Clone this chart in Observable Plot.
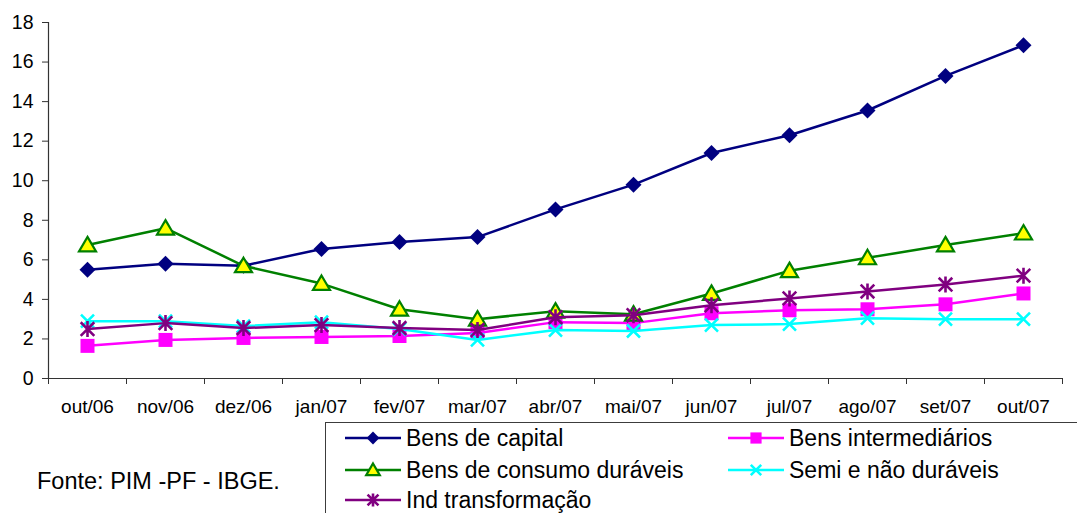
<!DOCTYPE html>
<html>
<head>
<meta charset="utf-8">
<script src="https://cdn.jsdelivr.net/npm/d3@7"></script>
<script src="https://cdn.jsdelivr.net/npm/@observablehq/plot@0.6"></script>
<style>
  html, body { margin: 0; padding: 0; background: #fff; overflow: hidden; }
  #wrap { position: relative; width: 1077px; height: 513px; font-family: "Liberation Sans", Arial, sans-serif; color: #000; }
  #legend { position: absolute; left: 325px; top: 422px; width: 800px; height: 140px; border: 1px solid #3c3c3c; box-sizing: border-box; }
  .item { position: absolute; display: flex; align-items: center; font-size: 23px; white-space: nowrap; }
  .item svg { display: block; margin-right: 5px; }
  #source { position: absolute; left: 37px; top: 468px; font-size: 23.5px; white-space: nowrap; }
</style>
</head>
<body>
<div id="wrap"><div id="chart"></div><div id="legend"></div><div id="source">Fonte: PIM -PF - IBGE.</div></div>
<script>
const months = ["out/06","nov/06","dez/06","jan/07","fev/07","mar/07","abr/07","mai/07","jun/07","jul/07","ago/07","set/07","out/07"];
const yTicks = [0, 2, 4, 6, 8, 10, 12, 14, 16, 18];

const bensCapital      = [5.5, 5.8, 5.7, 6.55, 6.9, 7.15, 8.55, 9.8, 11.4, 12.3, 13.55, 15.3, 16.85];
const bensIntermed     = [1.65, 1.95, 2.05, 2.1, 2.15, 2.3, 2.85, 2.8, 3.3, 3.45, 3.5, 3.75, 4.3];
const bensConsumoDur   = [6.75, 7.6, 5.7, 4.8, 3.5, 3.0, 3.4, 3.25, 4.3, 5.45, 6.1, 6.75, 7.35];
const semiNaoDur       = [2.9, 2.9, 2.65, 2.85, 2.5, 1.95, 2.45, 2.4, 2.7, 2.75, 3.05, 3.0, 3.0];
const indTransf        = [2.5, 2.8, 2.55, 2.7, 2.55, 2.45, 3.1, 3.2, 3.7, 4.05, 4.4, 4.75, 5.2];

const seriesNames = ["Bens de capital", "Bens intermediários", "Bens de consumo duráveis", "Semi e não duráveis", "Ind transformação"];

// custom Excel-like marker symbols
const rOf = size => Math.sqrt(size / Math.PI);
const symDiamond = { draw(c, s) { const r = rOf(s); c.moveTo(0, -r); c.lineTo(r, 0); c.lineTo(0, r); c.lineTo(-r, 0); c.closePath(); } };
const symSquare = { draw(c, s) { const r = rOf(s); c.moveTo(-r, -r); c.lineTo(r, -r); c.lineTo(r, r); c.lineTo(-r, r); c.closePath(); } };
const symTriangle = { draw(c, s) { const r = rOf(s); c.moveTo(0, -0.95 * r); c.lineTo(r, 0.75 * r); c.lineTo(-r, 0.75 * r); c.closePath(); } };
const symTimes = { draw(c, s) { const r = rOf(s); c.moveTo(-r, -r); c.lineTo(r, r); c.moveTo(-r, r); c.lineTo(r, -r); } };
const symStar = { draw(c, s) { const r = rOf(s); const d = r * 0.85; c.moveTo(-d, -d); c.lineTo(d, d); c.moveTo(-d, d); c.lineTo(d, -d); c.moveTo(0, -r); c.lineTo(0, r); } };

const seriesStyles = [
  { values: bensCapital,    line: "#000080", symbol: symDiamond,  r: 8,   fill: "#000080", stroke: "none",    sw: 0 },
  { values: bensIntermed,   line: "#FF00FF", symbol: symSquare,   r: 7,   fill: "#FF00FF", stroke: "none",    sw: 0 },
  { values: bensConsumoDur, line: "#008000", symbol: symTriangle, r: 8.5, fill: "#FFFF00", stroke: "#008000", sw: 2.2 },
  { values: semiNaoDur,     line: "#00FFFF", symbol: symTimes,    r: 6.5, fill: "none",    stroke: "#00FFFF", sw: 2.6 },
  { values: indTransf,      line: "#800080", symbol: symStar,     r: 8,   fill: "none",    stroke: "#800080", sw: 2.6 }
];

const marks = [
  Plot.ruleY([0], { x1: -0.5, x2: 12.5, stroke: "#333", strokeWidth: 1.2 }),
  Plot.ruleX([-0.5], { y1: 0, y2: 18, stroke: "#333", strokeWidth: 1.2 }),
  Plot.axisY({ ticks: yTicks, tickSize: 6, tickPadding: 9, stroke: "#333", fontSize: 19.5, label: null }),
  Plot.axisX({ ticks: d3.range(-0.5, 13, 1), tickSize: 6, tickFormat: () => "", stroke: "#333", label: null }),
  Plot.axisX({ ticks: d3.range(0, 13), tickSize: 0, tickPadding: 21, tickFormat: i => months[i], fontSize: 19, label: null })
];

seriesStyles.forEach(s => {
  marks.push(Plot.line(s.values, { x: (d, i) => i, y: d => d, stroke: s.line, strokeWidth: 2.5 }));
  marks.push(Plot.dot(s.values, { x: (d, i) => i, y: d => d, symbol: s.symbol, r: s.r, fill: s.fill, stroke: s.stroke, strokeWidth: s.sw }));
});

const chart = Plot.plot({
  width: 1077,
  height: 420,
  marginLeft: 48,
  marginRight: 15,
  marginTop: 22,
  marginBottom: 42,
  style: { fontFamily: "'Liberation Sans', Arial, sans-serif", color: "#000", background: "#fff", overflow: "visible" },
  x: { domain: [-0.5, 12.5] },
  y: { domain: [0, 18] },
  marks
});
document.getElementById("chart").appendChild(chart);

// legend
const legend = document.getElementById("legend");
const positions = [
  { left: 19, top: 0 }, { left: 402, top: 0 },
  { left: 19, top: 32 }, { left: 402, top: 32 },
  { left: 19, top: 62 }
];
seriesNames.forEach((name, k) => {
  const s = seriesStyles[k];
  const p = d3.path();
  s.symbol.draw(p, Math.PI * (s.r * 0.8) ** 2);
  const div = document.createElement("div");
  div.className = "item";
  div.style.left = positions[k].left + "px";
  div.style.top = positions[k].top + "px";
  div.style.height = "30px";
  div.innerHTML = `<svg width="56" height="20" viewBox="-28 -10 56 20">
      <line x1="-28" x2="28" y1="0" y2="0" stroke="${s.line}" stroke-width="2.5"/>
      <path d="${p.toString()}" fill="${s.fill}" stroke="${s.stroke}" stroke-width="${s.sw}"/>
    </svg><span>${name}</span>`;
  legend.appendChild(div);
});
</script>
</body>
</html>
